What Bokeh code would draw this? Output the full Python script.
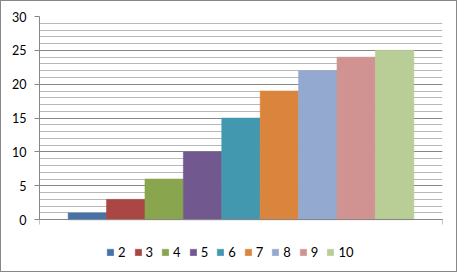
from bokeh.plotting import figure
from bokeh.models import Range1d, FixedTicker, SingleIntervalTicker, Legend, LegendItem
from bokeh.embed import file_html
from bokeh.resources import INLINE

series = ["2", "3", "4", "5", "6", "7", "8", "9", "10"]
values = [1, 3, 6, 10, 15, 19, 22, 24, 25]
colors = ["#4572A7", "#AA4643", "#89A54E", "#71588F", "#4198AF",
          "#DB843D", "#93A9CF", "#D19392", "#B9CD96"]
y_ticks = [0, 5, 10, 15, 20, 25, 30]

FONT = "Lato"
Y_MAX = 30
Y_BOTTOM = -6.46   # empty room under the zero line for the legend

p = figure(width=457, height=272, output_backend="svg", toolbar_location=None,
           x_range=Range1d(-0.5, 0.5), y_range=Range1d(Y_BOTTOM, Y_MAX),
           min_border_left=38, min_border_right=16, min_border_top=15,
           min_border_bottom=10)
p.styles = {"border": "1px solid #878787"}
p.outline_line_color = None
p.background_fill_color = "white"
p.border_fill_color = "white"

bw = 0.0953
n = len(values)
items = []
for i, (s, v, c) in enumerate(zip(series, values, colors)):
    x = (i - (n - 1) / 2) * bw
    r = p.vbar(x=[x], top=[v], bottom=0, width=bw, fill_color=c,
               line_color=c, line_width=0.6)
    items.append(LegendItem(label=s, renderers=[r]))

# y axis
p.yaxis.ticker = FixedTicker(ticks=y_ticks)
p.yaxis.bounds = (0, Y_MAX)
p.yaxis.axis_line_color = "#878787"
p.yaxis.major_tick_line_color = "#878787"
p.yaxis.major_tick_out = 5
p.yaxis.major_tick_in = 0
p.yaxis.minor_tick_line_color = None
p.yaxis.major_label_text_font = FONT
p.yaxis.major_label_text_font_size = "12.5px"
p.yaxis.major_label_text_color = "#000000"
p.yaxis.major_label_standoff = 8

p.ygrid.ticker = SingleIntervalTicker(interval=5, num_minor_ticks=5)
p.ygrid.bounds = (0, Y_MAX)
p.ygrid.grid_line_color = "#878787"
p.ygrid.minor_grid_line_color = "#B8B8B8"
p.xgrid.grid_line_color = None

# x axis, fixed at y = 0
p.xaxis.fixed_location = 0
p.xaxis.ticker = FixedTicker(ticks=[-0.5, 0.5])
p.xaxis.axis_line_color = "#878787"
p.xaxis.major_tick_line_color = "#878787"
p.xaxis.major_tick_out = 5
p.xaxis.major_tick_in = 0
p.xaxis.minor_tick_line_color = None
p.xaxis.major_label_text_alpha = 0
p.xaxis.major_label_text_font_size = "1px"
p.xaxis.major_label_standoff = 0

legend = Legend(items=items, orientation="horizontal", location=(67, 3),
                glyph_width=8, glyph_height=8, label_standoff=4, spacing=8,
                label_width=7, padding=0, margin=0, border_line_color=None,
                background_fill_alpha=0,
                label_text_font=FONT, label_text_font_size="13px",
                label_text_color="#000000", label_height=8)
p.add_layout(legend, "center")

open("out.html", "w").write(file_html(p, INLINE))
